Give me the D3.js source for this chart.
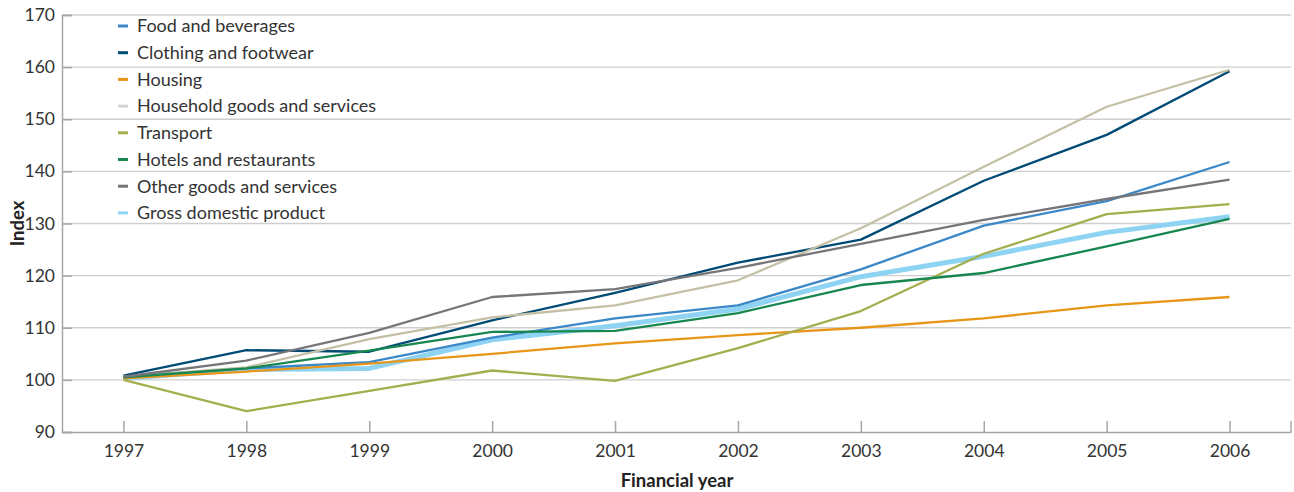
<!DOCTYPE html>
<html><head><meta charset="utf-8">
<script src="https://cdn.jsdelivr.net/npm/d3@7"></script>
<style>
html,body{margin:0;padding:0;background:#fff;}
svg{display:block;font-family:Lato,"Noto Sans",sans-serif;}
</style></head>
<body>
<svg id="chart" width="1294" height="492"></svg>
<script>
const years = ["1997","1998","1999","2000","2001","2002","2003","2004","2005","2006"];
const yTicks = [90,100,110,120,130,140,150,160,170];
const seriesNames = ["Food and beverages","Clothing and footwear","Housing","Household goods and services","Transport","Hotels and restaurants","Other goods and services","Gross domestic product"];
const seriesColors = ["#3b88c9","#004a76","#e8961a","#c4c0a6","#a5ae4e","#17874f","#76767a","#8fd3f3"];
const food      = [100.6,102.2,103.4,108.1,111.8,114.3,121.2,129.6,134.3,141.8];
const clothing  = [100.8,105.7,105.4,111.4,116.7,122.5,126.9,138.2,147.0,159.2];
const housing   = [100.3,101.6,103.1,105.0,107.0,108.6,110.0,111.8,114.3,115.9];
const household = [100.6,102.4,107.8,112.0,114.3,119.1,129.1,140.9,152.4,159.5];
const transport = [100.0,94.0,97.9,101.8,99.8,106.1,113.2,124.2,131.8,133.7];
const hotels    = [100.5,102.2,105.6,109.2,109.4,112.8,118.2,120.5,125.6,130.9];
const other     = [100.6,103.7,109.0,115.9,117.4,121.5,126.1,130.7,134.7,138.4];
const gdp       = [100.3,102.0,102.2,107.7,110.4,113.6,119.8,123.7,128.3,131.3];
const seriesValues = [food,clothing,housing,household,transport,hotels,other,gdp];

const svg = d3.select("#chart");
const L = 62, R = 1291, T = 15, B = 432;
const x = d3.scalePoint().domain(years).range([L, R]).padding(0.5);
const y = d3.scaleLinear().domain([90,170]).range([B, T]);

// gridlines
svg.append("g").selectAll("line").data(yTicks.filter(d=>d>90)).join("line")
  .attr("x1", L).attr("x2", R).attr("y1", d=>y(d)).attr("y2", d=>y(d))
  .attr("stroke", "#cfcfcf").attr("stroke-width", 1.3);

// y axis
const yAxis = d3.axisLeft(y).tickValues(yTicks).tickSize(-10).tickPadding(7).tickFormat(d3.format("d"));
const gy = svg.append("g").attr("transform", `translate(${L},0)`).call(yAxis);
gy.select(".domain").attr("stroke", "#a6a6a6").attr("stroke-width", 1.5);
gy.selectAll(".tick line").attr("stroke", "#a6a6a6").attr("stroke-width", 1.5);
gy.selectAll(".tick text").attr("font-size", 17.5).attr("fill", "#333").attr("font-family", "Lato");

// x axis
const xAxis = d3.axisBottom(x).tickSize(-11).tickPadding(13).tickSizeOuter(0);
const gx = svg.append("g").attr("transform", `translate(0,${B})`).call(xAxis);
gx.select(".domain").attr("stroke", "#a6a6a6").attr("stroke-width", 1.5);
gx.selectAll(".tick line").attr("stroke", "#a6a6a6").attr("stroke-width", 1.5);
gx.selectAll(".tick text").attr("font-size", 17.5).attr("fill", "#333").attr("font-family", "Lato");
gx.append("line").attr("x1", R).attr("x2", R).attr("y1", 0).attr("y2", -11)
  .attr("stroke", "#a6a6a6").attr("stroke-width", 1.5);

// axis titles
svg.append("text").attr("x", 677).attr("y", 487).attr("text-anchor","middle")
  .attr("font-size", 18.5).attr("font-weight", "bold").attr("fill", "#222").text("Financial year");
svg.append("text").attr("transform", `translate(24,${(T+B)/2}) rotate(-90)`).attr("text-anchor","middle")
  .attr("font-size", 18.5).attr("font-weight", "bold").attr("fill", "#222").text("Index");

// lines
const line = d3.line().x((d,i)=>x(years[i])).y(d=>y(d));
const order = [7,0,1,2,3,4,5,6];
svg.append("g").selectAll("path").data(order).join("path")
  .attr("d", i=>line(seriesValues[i]))
  .attr("fill","none")
  .attr("stroke", i=>seriesColors[i])
  .attr("stroke-width", i=> i===7 ? 5 : 2.3)
  .attr("stroke-linejoin","round");

// legend
const leg = svg.append("g").selectAll("g").data(seriesNames).join("g")
  .attr("transform", (d,i)=>`translate(118,${26 + i*26.7})`);
leg.append("line").attr("x1",0).attr("x2",10).attr("y1",0).attr("y2",0)
  .attr("stroke",(d,i)=> i===3 ? "#d4d4d4" : seriesColors[i]).attr("stroke-width", 3);
leg.append("text").attr("x", 19).attr("y", 0).attr("dy","0.35em")
  .attr("font-size", 18).attr("fill", "#333").text(d=>d);
</script>
</body></html>
